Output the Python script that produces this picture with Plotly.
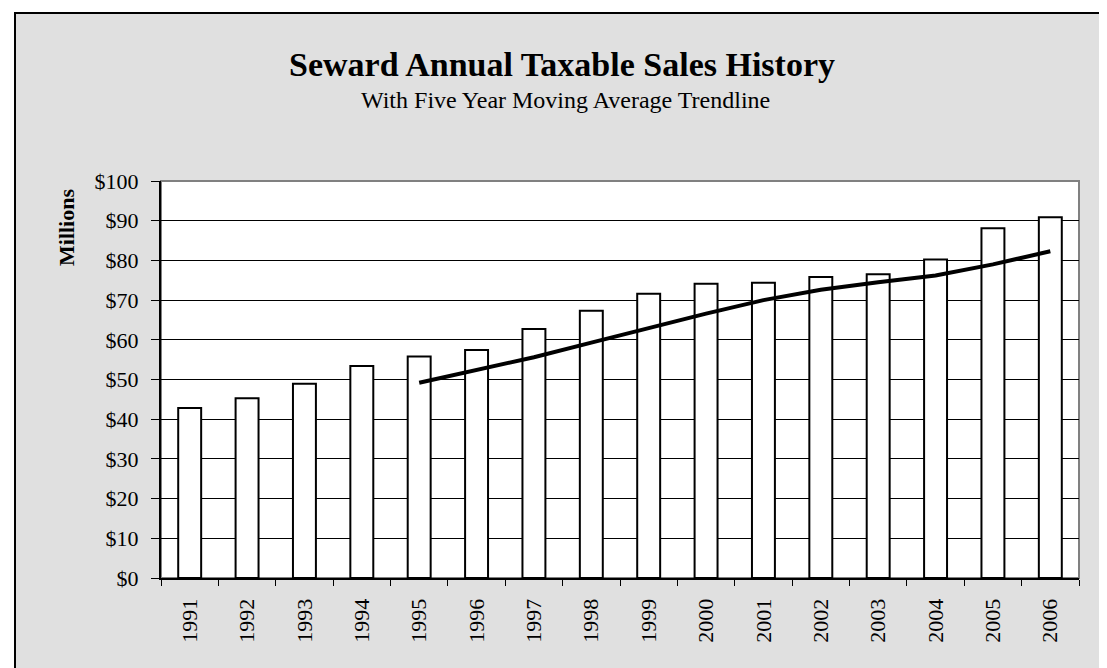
import plotly.graph_objects as go

years = ["1991", "1992", "1993", "1994", "1995", "1996", "1997", "1998",
         "1999", "2000", "2001", "2002", "2003", "2004", "2005", "2006"]
sales = [42.8, 45.3, 48.9, 53.4, 55.8, 57.4, 62.7, 67.3,
         71.6, 74.1, 74.4, 75.8, 76.5, 80.2, 88.1, 90.9]
ma_years = ["1995", "1996", "1997", "1998", "1999", "2000", "2001", "2002",
            "2003", "2004", "2005", "2006"]
ma_values = [49.2, 52.3, 55.6, 59.3, 63.0, 66.6, 70.0, 72.6, 74.5, 76.2, 79.0, 82.3]
y_ticks = [0, 10, 20, 30, 40, 50, 60, 70, 80, 90, 100]

title_text = "Seward Annual Taxable Sales History"
subtitle_text = "With Five Year Moving Average Trendline"
y_title = "Millions"

FONT = "Liberation Serif, Times New Roman, serif"

W, H = 1107, 668
L, R, T, B = 153, 1071, 173, 570


def px(xp):
    return (xp - L) / (R - L)


def py(yp):
    return (B - yp) / (B - T)


fig = go.Figure()
fig.add_trace(go.Bar(
    x=years, y=sales,
    marker=dict(color="white", line=dict(color="black", width=2)),
    showlegend=False, hoverinfo="x+y",
))
fig.add_trace(go.Scatter(
    x=ma_years, y=ma_values, mode="lines",
    line=dict(color="black", width=4),
    showlegend=False,
))

fig.update_layout(
    width=W, height=H,
    margin=dict(l=L, r=W - R, t=T, b=H - B, pad=0),
    paper_bgcolor="white",
    plot_bgcolor="white",
    bargap=0.6,
    font=dict(family=FONT, color="black", size=22),
    shapes=[
        dict(type="rect", xref="paper", yref="paper", layer="below",
             x0=px(7), x1=px(1103), y0=py(690), y1=py(5),
             fillcolor="#e0e0e0", line=dict(color="black", width=2)),
        dict(type="rect", xref="paper", yref="paper", layer="below",
             x0=0, x1=1, y0=0, y1=1,
             fillcolor="white", line=dict(color="#808080", width=2)),
    ],
    annotations=[
        dict(text="<b>" + title_text + "</b>", xref="paper", yref="paper",
             x=px(554), y=py(57), xanchor="center", yanchor="middle",
             showarrow=False, font=dict(family=FONT, size=34, color="black")),
        dict(text=subtitle_text, xref="paper", yref="paper",
             x=px(557), y=py(92), xanchor="center", yanchor="middle",
             showarrow=False, font=dict(family=FONT, size=24, color="black")),
        dict(text="<b>" + y_title + "</b>", xref="paper", yref="paper",
             x=px(58), y=py(220), xanchor="center", yanchor="middle",
             textangle=-90, showarrow=False,
             font=dict(family=FONT, size=22, color="black")),
    ],
)

fig.update_xaxes(
    type="category",
    tickson="boundaries",
    ticks="outside", ticklen=6, tickwidth=1, tickcolor="black",
    tickangle=-90,
    showline=True, linecolor="black", linewidth=2,
    showgrid=False, zeroline=False,
    tickfont=dict(family=FONT, size=22, color="black"),
    ticklabelstandoff=10,
)
fig.update_yaxes(
    range=[0, 100],
    tickvals=y_ticks,
    ticktext=["$" + str(v) for v in y_ticks],
    ticks="outside", ticklen=8, tickwidth=1, tickcolor="black",
    showline=True, linecolor="black", linewidth=2,
    showgrid=True, gridcolor="black", gridwidth=1,
    zeroline=False,
    tickfont=dict(family=FONT, size=22, color="black"),
    ticklabelstandoff=8,
)

fig.write_html("out.html")
